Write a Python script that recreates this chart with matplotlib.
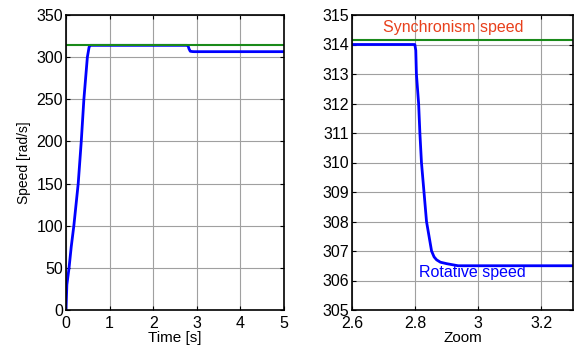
import matplotlib
matplotlib.use('Agg')
import matplotlib.pyplot as plt

plt.rcParams['font.family'] = ['Liberation Sans', 'DejaVu Sans']

# synchronism speed (rad/s)
sync_speed = 314.16

# full run: time [s] vs rotative speed [rad/s]
t_full = [0.0, 0.01, 0.02, 0.07, 0.12, 0.18, 0.23, 0.28, 0.35, 0.41, 0.49, 0.53, 0.56,
          2.78, 2.80, 2.82, 2.85, 2.90, 2.95, 5.0]
w_full = [0, 15, 30, 50, 75, 100, 125, 150, 200, 250, 300, 312, 314,
          314, 313.5, 310, 307, 306.6, 306.5, 306.5]

# zoom around the load step
t_zoom = [2.6, 2.799, 2.802, 2.804, 2.811, 2.815, 2.82, 2.828, 2.836, 2.844, 2.852,
          2.86, 2.868, 2.88, 2.90, 2.936, 3.3]
w_zoom = [314, 314, 313.8, 313, 312, 311, 310, 309, 308, 307.5, 307, 306.8, 306.7,
          306.62, 306.57, 306.5, 306.5]

blue = '#0000ff'
green = '#1a8a1a'

fig = plt.figure(figsize=(5.78, 3.47), dpi=100)
ax1 = fig.add_axes([66/578, 1-310/347, 218/578, 295/347])
ax2 = fig.add_axes([352/578, 1-310/347, 221/578, 295/347])

ax1.plot(t_full, w_full, color=blue, lw=2)
ax1.plot([0, 5], [sync_speed, sync_speed], color=green, lw=1.5)
ax1.set_xlim(0, 5)
ax1.set_ylim(0, 350)
ax1.set_xticks([0, 1, 2, 3, 4, 5])
ax1.set_yticks(range(0, 351, 50))
ax1.set_xlabel('Time [s]', fontsize=11, labelpad=0)
ax1.set_ylabel('Speed [rad/s]', fontsize=10, labelpad=4)

ax2.plot([2.6, 3.3], [sync_speed, sync_speed], color=green, lw=1.5)
ax2.plot(t_zoom, w_zoom, color=blue, lw=2)
ax2.set_xlim(2.6, 3.3)
ax2.set_ylim(305, 315)
ax2.set_xticks([2.6, 2.8, 3.0, 3.2])
ax2.set_xticklabels(['2.6', '2.8', '3', '3.2'])
ax2.set_yticks(range(305, 316))
ax2.set_xlabel('Zoom', fontsize=11, labelpad=0)
ax2.text(2.92, 314.56, 'Synchronism speed', color='#e8401c', fontsize=11.5,
         ha='center', va='center')
ax2.text(2.98, 306.27, 'Rotative speed', color=blue, fontsize=11.5,
         ha='center', va='center')

for ax in (ax1, ax2):
    ax.grid(True, color='#a0a0a0', lw=0.8)
    ax.set_axisbelow(True)
    ax.tick_params(direction='in', top=True, right=True, labelsize=11.5,
                   length=3, pad=2)
    ax.tick_params(axis='x', pad=4)
    for s in ax.spines.values():
        s.set_linewidth(1.2)

fig.savefig('out.png', dpi=100)
